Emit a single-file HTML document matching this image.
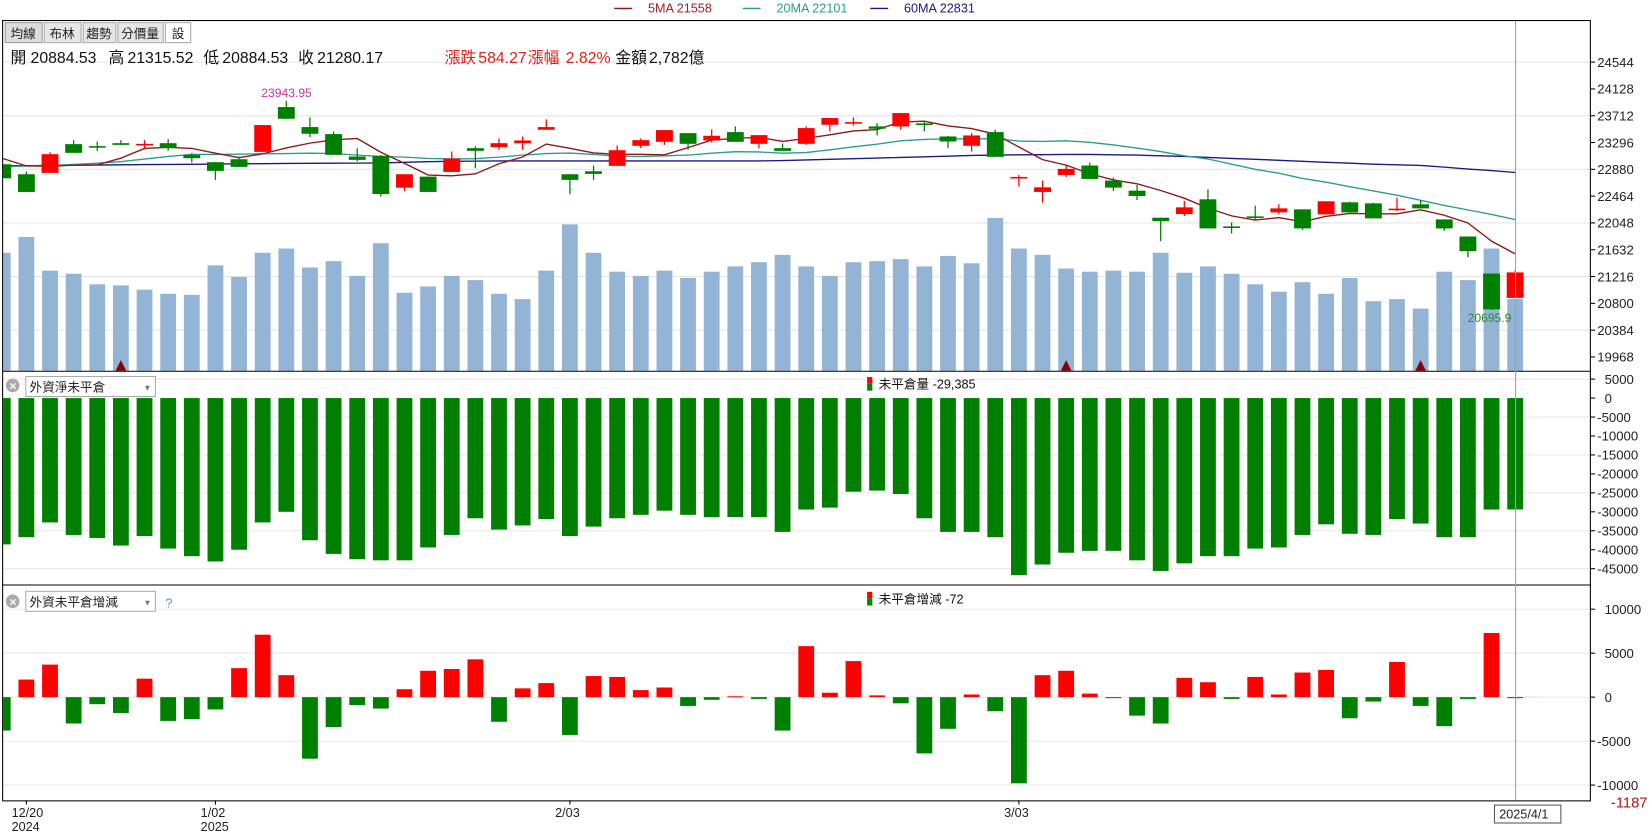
<!DOCTYPE html>
<html><head><meta charset="utf-8"><style>
html,body{margin:0;padding:0;background:#fff;width:1652px;height:833px;overflow:hidden}
svg{display:block;font-family:"Liberation Sans","Noto Sans CJK TC",sans-serif}
</style></head><body>
<svg id="chart" width="1652" height="833" viewBox="0 0 1568 791" preserveAspectRatio="none" xmlns="http://www.w3.org/2000/svg">
<defs><clipPath id="plotclip"><rect x="3" y="20" width="1507" height="740"/></clipPath></defs>
<g>
 <line x1="583" y1="8" x2="600" y2="8" stroke="#8b1a1a" stroke-width="1.3"/>
 <text x="615" y="12" font-size="12" fill="#a0202a">5MA 21558</text>
 <line x1="705" y1="8" x2="722" y2="8" stroke="#2e9c94" stroke-width="1.3"/>
 <text x="737" y="12" font-size="12" fill="#2e9c94">20MA 22101</text>
 <line x1="826" y1="8" x2="843" y2="8" stroke="#1a1a80" stroke-width="1.3"/>
 <text x="858" y="12" font-size="12" fill="#1a1a80">60MA 22831</text>
</g>
<g id="grids"></g>
<g id="plot" clip-path="url(#plotclip)"></g>
<g id="axes"></g>
<rect x="2.5" y="19.5" width="1507" height="741" fill="none" stroke="#000" stroke-width="1"/>
<line x1="2" y1="352.5" x2="1510" y2="352.5" stroke="#000"/>
<line x1="2" y1="555.5" x2="1510" y2="555.5" stroke="#000"/>
<line x1="1438.5" y1="20" x2="1438.5" y2="760" stroke="#8f9fcf" stroke-width="1"/>
<g font-size="12">
 <rect x="5" y="21.5" width="35" height="19" fill="#dcdcdc" stroke="#999"/>
 <text x="10" y="36" fill="#222">均線</text>
 <rect x="42" y="21.5" width="35" height="19" fill="#e6e6e6" stroke="#aaa"/>
 <text x="47" y="36" fill="#222">布林</text>
 <rect x="79" y="21.5" width="31" height="19" fill="#e6e6e6" stroke="#aaa"/>
 <text x="82" y="36" fill="#222">趨勢</text>
 <rect x="112" y="21.5" width="43" height="19" fill="#e6e6e6" stroke="#aaa"/>
 <text x="115" y="36" fill="#222">分價量</text>
 <rect x="157" y="21.5" width="24" height="19" fill="#fff" stroke="#aaa"/>
 <text x="163" y="36" fill="#222">設</text>
</g>
<g font-size="15">
 <text x="10" y="60" fill="#111">開</text><text x="29" y="60" fill="#111">20884.53</text>
 <text x="103" y="60" fill="#111">高</text><text x="121" y="60" fill="#111">21315.52</text>
 <text x="193" y="60" fill="#111">低</text><text x="211" y="60" fill="#111">20884.53</text>
 <text x="283" y="60" fill="#111">收</text><text x="301" y="60" fill="#111">21280.17</text>
 <text x="422" y="60" fill="#e0201a">漲跌</text><text x="454" y="60" fill="#e0201a">584.27</text>
 <text x="501" y="60" fill="#e0201a">漲幅</text><text x="537" y="60" fill="#e0201a">2.82%</text>
 <text x="584" y="60" fill="#111">金額</text><text x="616" y="60" fill="#111">2,782億</text>
</g>
<text x="248" y="92" font-size="11.5" fill="#cc3399">23943.95</text>
<text x="1393" y="306" font-size="11.5" fill="#2a8a2a">20695.9</text>
<g>
 <circle cx="12" cy="366" r="6.5" fill="#aaa"/>
 <text x="8.5" y="370" font-size="9" fill="#fff" font-weight="bold">✕</text>
 <rect x="24.5" y="357.5" width="123" height="19" fill="#fff" stroke="#aaa"/>
 <text x="28" y="372" font-size="12" fill="#222">外資淨未平倉</text>
 <text x="136" y="371" font-size="8" fill="#777">▼</text>
 <rect x="823" y="358" width="5" height="6" fill="#f00"/><rect x="823" y="364" width="5" height="7" fill="#080"/>
 <text x="834" y="369" font-size="12" fill="#111">未平倉量 -29,385</text>
</g>
<g>
 <circle cx="12" cy="571" r="6.5" fill="#aaa"/>
 <text x="8.5" y="575" font-size="9" fill="#fff" font-weight="bold">✕</text>
 <rect x="24.5" y="561.5" width="123" height="19" fill="#fff" stroke="#aaa"/>
 <text x="28" y="576" font-size="12" fill="#222">外資未平倉增減</text>
 <text x="136" y="575" font-size="8" fill="#777">▼</text>
 <text x="157" y="577" font-size="12" fill="#5b8fd0">?</text>
 <rect x="823" y="562" width="5" height="6" fill="#f00"/><rect x="823" y="568" width="5" height="7" fill="#080"/>
 <text x="834" y="573" font-size="12" fill="#111">未平倉增減 -72</text>
</g>
<text x="1529" y="767" font-size="14" fill="#b01818">-1187</text>
<g>
 <rect x="1418.5" y="764.5" width="63" height="17" fill="#fff" stroke="#555"/>
 <text x="1423" y="777" font-size="12" fill="#222">2025/4/1</text>
</g>
</svg>
<script>
const prevCloses = [23100, 23150, 23050, 23200];
const opens = [22959,22804,22825,23271,23240,23286,23265,23286,23105,22991,23037,23151,23847,23536,23427,23079,23089,22596,22767,22840,23209,23224,23286,23494,22804,22850,22934,23245,23307,23442,23328,23458,23276,23209,23276,23572,23603,23546,23546,23593,23390,23245,23458,22752,22529,22793,22939,22705,22549,22129,22186,22415,21994,22150,22212,22259,22181,22368,22352,22264,22337,22103,21838,21262,20884.53];
const highs = [22959,22845,23146,23333,23312,23333,23333,23349,23131,22996,23079,23567,23944,23686,23468,23208,23100,22804,22767,23157,23240,23359,23390,23655,22804,22939,23250,23359,23489,23442,23499,23546,23411,23281,23546,23676,23686,23598,23753,23634,23401,23442,23494,22793,22705,22939,22985,22752,22638,22129,22389,22570,22056,22316,22337,22259,22384,22379,22363,22441,22404,22103,21838,21262,21315.52];
const lows = [22741,22529,22825,23136,23167,23260,23193,23167,22985,22715,22918,23151,23665,23380,23105,23001,22456,22544,22529,22840,22897,23183,23183,23494,22492,22716,22934,23209,23260,23183,23297,23307,23209,23167,23260,23468,23561,23406,23494,23468,23209,23157,23074,22612,22362,22762,22731,22544,22404,21766,22155,21963,21885,22093,22181,21937,22181,22212,22119,22233,22274,21922,21517,20695.9,20884.53];
const closes = [22741,22529,23115,23136,23230,23260,23275,23209,23053,22856,22918,23567,23665,23432,23105,23027,22497,22804,22529,23048,23167,23286,23328,23536,22716,22809,23177,23333,23489,23276,23401,23307,23411,23167,23520,23676,23613,23510,23753,23582,23312,23406,23074,22762,22601,22887,22731,22596,22466,22077,22290,21963,21989,22144,22274,21963,22384,22212,22119,22270,22274,21963,21610,20707,21280.17];
const ma20 = [22920,22930,22940,22955,22975,23000,23040,23080,23110,23112,23115,23120,23125,23130,23125,23100,23080,23070,23050,23042,23045,23070,23100,23125,23131,23110,23085,23080,23090,23100,23130,23155,23150,23130,23140,23183,23230,23270,23323,23345,23354,23354,23354,23320,23313,23323,23300,23260,23210,23157,23090,23040,22960,22880,22819,22740,22680,22610,22545,22480,22400,22320,22250,22180,22101];
const ma60 = [22935,22938,22941,22944,22947,22950,22953,22956,22959,22962,22965,22968,22971,22973,22975,22977,22979,22990,23000,23005,23008,23010,23011,23011,23011,23011,23011,23011,23011,23011,23011,23011,23011,23015,23025,23035,23045,23055,23065,23075,23085,23095,23100,23105,23108,23110,23110,23105,23100,23090,23080,23065,23050,23035,23020,23005,22990,22975,22960,22950,22940,22915,22885,22860,22831];
const volumes = [4581,5194,3886,3763,3354,3313,3149,2986,2945,4090,3640,4581,4744,4008,4254,3681,4949,3027,3272,3681,3517,2986,2781,3886,5685,4581,3845,3681,3886,3599,3845,4049,4213,4499,4049,3681,4213,4254,4335,4049,4458,4172,5931,4744,4499,3967,3845,3886,3845,4581,3804,4049,3763,3354,3068,3436,2986,3599,2699,2781,2413,3845,3517,4744,2782];
const netOI = [-38600,-36700,-32800,-36100,-36900,-38900,-36400,-39700,-41700,-43100,-40000,-32800,-30000,-37500,-41100,-42500,-42800,-42800,-39400,-36100,-31700,-34700,-33600,-31900,-36400,-33900,-31700,-30800,-29700,-30800,-31400,-31400,-31400,-35300,-29400,-28900,-24700,-24400,-25300,-31700,-35300,-35300,-36700,-46700,-43900,-40800,-40300,-40300,-42800,-45600,-43600,-41700,-41700,-39700,-39400,-36100,-33300,-35800,-36100,-31900,-33100,-36700,-36700,-29400,-29385];
const oiChange = [-3800,2000,3700,-3000,-800,-1800,2100,-2700,-2500,-1400,3300,7100,2500,-7000,-3400,-900,-1300,900,3000,3200,4300,-2800,1000,1600,-4300,2400,2300,800,1100,-1000,-300,100,-200,-3800,5800,500,4100,200,-700,-6400,-3600,300,-1600,-9800,2500,3000,400,-100,-2100,-3000,2200,1700,-200,2300,300,2800,3100,-2400,-500,4000,-1000,-3300,-200,7300,-72];
const priceTicks = [24544,24128,23712,23296,22880,22464,22048,21632,21216,20800,20384,19968];
const oiTicks = [5000,0,-5000,-10000,-15000,-20000,-25000,-30000,-35000,-40000,-45000];
const oiGridTicks = [5000,-5000,-15000,-25000,-35000,-45000];
const chgTicks = [10000,5000,0,-5000,-10000];
const dateLabels = ["12/20","1/02","2/03","3/03"];
const yearLabels = ["2024","2025","",""];
const dateIdx = [1,9,24,43];
const markerIdx = [5,45,60];

const NS = "http://www.w3.org/2000/svg";
function mk(parent, tag, attrs){const e=document.createElementNS(NS,tag);for(const k in attrs)e.setAttribute(k,attrs[k]);parent.appendChild(e);return e;}
const xAt = i => 2.6 + 22.43*i;
const py = p => 59 + (24544-p)/416*25.45;
const vy = v => 352 - v/40.9;
const y2 = v => 378 - v*0.0036;
const y3 = v => 662 - v*0.00835;
const grids = document.getElementById('grids'), plot = document.getElementById('plot'), axes = document.getElementById('axes');
const RED="#ff0000", GREEN="#008000";

priceTicks.forEach((t,k)=>{
  const y=py(t);
  if(k%2===0){const g=mk(grids,'line',{x1:3,x2:1510,y1:y,y2:y,stroke:'#e4e4e4'});
  
  }
  mk(axes,'line',{x1:1510,x2:1514,y1:y,y2:y,stroke:'#000'});
  const tx=mk(axes,'text',{x:1516,y:y+4.5,'font-size':12.5,fill:'#222'});tx.textContent=t;
  
  
});
oiGridTicks.forEach(t=>{const y=y2(t);const g=mk(grids,'line',{x1:3,x2:1510,y1:y,y2:y,stroke:'#e8e8e8'});
  
  });
oiTicks.forEach(t=>{const y=y2(t);
  mk(axes,'line',{x1:1510,x2:1514,y1:y,y2:y,stroke:'#000'});
  const tx=mk(axes,'text',{x:t<0?1516:1523,y:y+4.5,'font-size':12.5,fill:'#222'});tx.textContent=t;
  
  });
chgTicks.forEach(t=>{const y=y3(t);
  const g=mk(grids,'line',{x1:3,x2:1510,y1:y,y2:y,stroke:'#e8e8e8'});
  
  
  mk(axes,'line',{x1:1510,x2:1514,y1:y,y2:y,stroke:'#000'});
  const tx=mk(axes,'text',{x:t<0?1516:1523,y:y+4.5,'font-size':12.5,fill:'#222'});tx.textContent=t;
  
  });
dateIdx.forEach((di,k)=>{const x=xAt(di);
  mk(axes,'line',{x1:x,x2:x,y1:760,y2:764,stroke:'#000'});
  const tx=mk(axes,'text',{x:x-14,y:776,'font-size':12,fill:'#222'});tx.textContent=dateLabels[k];
  
  
  if(yearLabels[k]){const ty=mk(axes,'text',{x:x-14,y:789,'font-size':12,fill:'#222'});ty.textContent=yearLabels[k];
  
  }
});
volumes.forEach((v,i)=>{const x=xAt(i);const r=mk(plot,'rect',{x:x-7.5,y:vy(v),width:15,height:352-vy(v),fill:'#94b4d6'});
  
  });
const ma5 = closes.map((c,i)=>{const all=prevCloses.concat(closes);const s=all.slice(i,i+5);return s.reduce((a,b)=>a+b,0)/5;});
function line(arr,color,name){const p=mk(plot,'polyline',{points:arr.map((v,i)=>xAt(i)+','+py(v).toFixed(1)).join(' '),fill:'none',stroke:color,'stroke-width':1.3});
  
  }
line(ma60,'#1a1a80','ma60-line');
line(ma20,'#2e9c94','ma20-line');
line(ma5,'#8b1a1a','ma5-line');
opens.forEach((o,i)=>{const c=closes[i];const x=xAt(i);const col=c>=o?RED:GREEN;
  const w=mk(plot,'line',{x1:x,x2:x,y1:py(highs[i]),y2:py(lows[i]),stroke:col,'stroke-width':1.2});
  
  
  const top=py(Math.max(o,c)), h=Math.max(1.5,py(Math.min(o,c))-top);
  const b=mk(plot,'rect',{x:x-8,y:top,width:16,height:h,fill:col});
  
  
});
markerIdx.forEach(mi=>{const x=xAt(mi);const m=mk(plot,'polygon',{points:`${x-5},352 ${x+5},352 ${x},342`,fill:'#8b0000'});
  
  });
netOI.forEach((v,i)=>{const x=xAt(i);const y0=y2(0),y1=y2(v);const r=mk(plot,'rect',{x:x-7.5,y:Math.min(y0,y1),width:15,height:Math.abs(y1-y0),fill:v>=0?RED:'#007f00'});
  
  });
mk(plot,'line',{x1:1440,x2:1460,y1:y3(0),y2:y3(0),stroke:'#ddd'});
oiChange.forEach((v,i)=>{const x=xAt(i);const y0=y3(0),y1=y3(v);const r=mk(plot,'rect',{x:x-7.5,y:Math.min(y0,y1),width:15,height:Math.max(1,Math.abs(y1-y0)),fill:v>=0?RED:GREEN});
  
  });
</script>
</body></html>
